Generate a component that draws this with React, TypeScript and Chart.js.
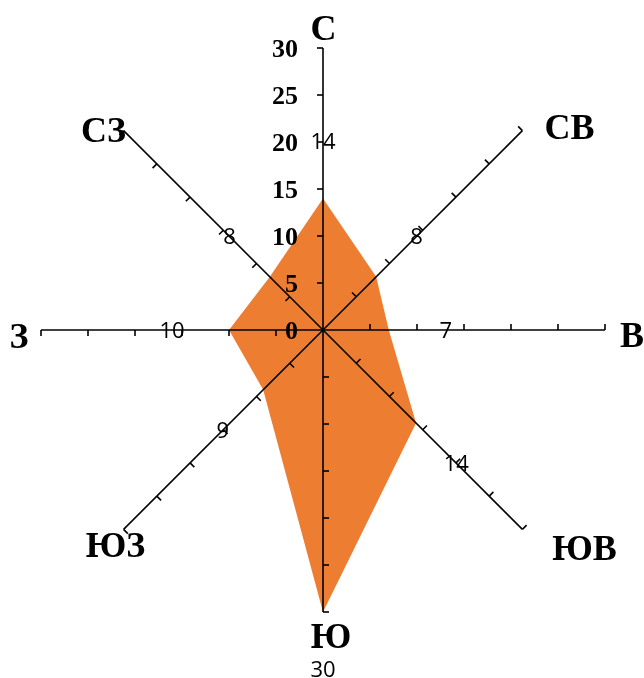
import React, { useEffect, useRef } from "react";
import { Chart, registerables } from "chart.js";

Chart.register(...registerables);

// ---- data ----
const directions = ["С", "СВ", "В", "ЮВ", "Ю", "ЮЗ", "З", "СЗ"];
const frequencies = [14, 8, 7, 14, 30, 9, 10, 8];
const scaleTicks = [0, 5, 10, 15, 20, 25, 30];

// ---- styles ----
const FILL = "#ED7D31";
const AXIS = "#000000";
const SERIF = '"Liberation Serif", "DejaVu Serif", serif';
const SANS = '"Open Sans", "Noto Sans", sans-serif';
// direction-label placement relative to the spoke end (center x, baseline y)
const DIR_LABEL_SHIFT = [
  [0.5, -8],
  [47, 8],
  [27, 17],
  [62, 31],
  [8, 36],
  [-8, 28],
  [-22, 18],
  [-20, 11],
];

const roseAxesPlugin = {
  id: "roseAxes",
  afterDatasetsDraw(chart: any) {
    const scale = chart.scales.r;
    const ctx = chart.ctx as CanvasRenderingContext2D;
    const n = directions.length;
    const max = scaleTicks[scaleTicks.length - 1];
    ctx.save();
    ctx.strokeStyle = AXIS;
    ctx.lineWidth = 1.6;
    ctx.lineCap = "butt";
    for (let i = 0; i < n; i++) {
      const end = scale.getPointPositionForValue(i, max);
      ctx.beginPath();
      ctx.moveTo(scale.xCenter, scale.yCenter);
      ctx.lineTo(end.x, end.y);
      ctx.stroke();
      const ang = scale.getIndexAngle(i) - Math.PI / 2;
      const px = Math.sin(ang);
      const py = -Math.cos(ang);
      for (const v of scaleTicks) {
        if (v <= 0) continue;
        const p = scale.getPointPositionForValue(i, v);
        ctx.beginPath();
        ctx.moveTo(p.x, p.y);
        ctx.lineTo(p.x + px * 6, p.y + py * 6);
        ctx.stroke();
      }
    }

    // value tick labels on the north spoke
    ctx.fillStyle = "#000";
    ctx.font = `bold 26px ${SERIF}`;
    ctx.textAlign = "right";
    ctx.textBaseline = "alphabetic";
    for (const v of scaleTicks) {
      const p = scale.getPointPositionForValue(0, v);
      ctx.fillText(String(v), p.x - 25, p.y + 9);
    }

    // data labels
    const dSize = 22;
    ctx.font = `${dSize}px ${SANS}`;
    ctx.textAlign = "center";
    for (let i = 0; i < n; i++) {
      const p = scale.getPointPositionForValue(i, frequencies[i]);
      const ang = scale.getIndexAngle(i) - Math.PI / 2;
      const x = p.x + Math.cos(ang) * 57;
      const y = p.y + Math.sin(ang) * 57;
      ctx.fillText(String(frequencies[i]), x, y + dSize * 0.357);
    }

    // direction labels
    ctx.font = `bold 36px ${SERIF}`;
    for (let i = 0; i < n; i++) {
      const end = scale.getPointPositionForValue(i, max);
      const [dx, dy] = DIR_LABEL_SHIFT[i];
      ctx.fillText(directions[i], end.x + dx, end.y + dy);
    }
    ctx.restore();
  },
};

export default function App() {
  const ref = useRef<HTMLCanvasElement | null>(null);
  useEffect(() => {
    if (!ref.current) return;
    const chart = new Chart(ref.current, {
      type: "radar",
      data: {
        labels: directions,
        datasets: [
          {
            data: frequencies,
            backgroundColor: FILL,
            borderWidth: 0,
            pointRadius: 0,
            fill: true,
          },
        ],
      },
      options: {
        responsive: false,
        animation: false,
        layout: { padding: { left: 41, right: 39, top: 48, bottom: 66 } },
        plugins: { legend: { display: false }, tooltip: { enabled: false } },
        scales: {
          r: {
            min: 0,
            max: 30,
            ticks: { display: false, stepSize: 5 },
            grid: { display: false },
            angleLines: { display: false },
            pointLabels: { display: false },
          },
        },
      },
      plugins: [roseAxesPlugin],
    });
    return () => chart.destroy();
  }, []);
  return (
    <canvas
      ref={ref}
      width={644}
      height={678}
      style={{ position: "absolute", left: 0, top: 0, display: "block" }}
    />
  );
}
